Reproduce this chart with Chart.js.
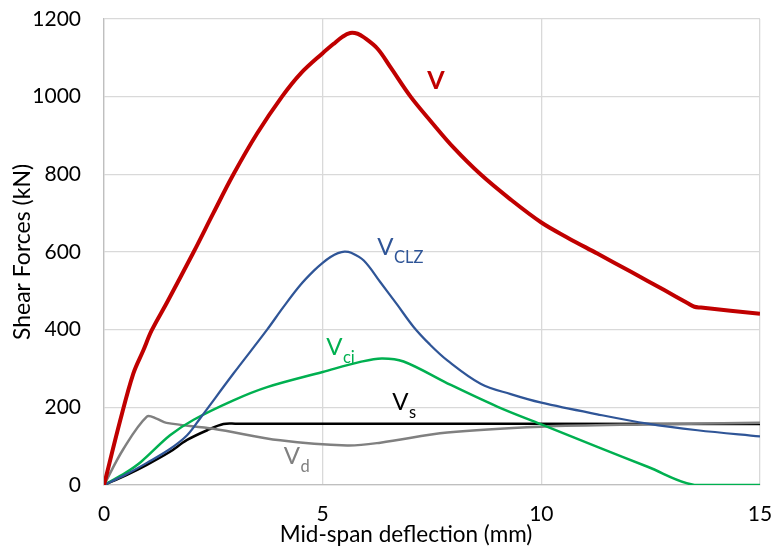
<!DOCTYPE html>
<html><head><meta charset="utf-8">
<script src="https://cdn.jsdelivr.net/npm/chart.js@4.4.0/dist/chart.umd.min.js"></script>
<style>html,body{margin:0;padding:0;background:#fff}#wrap{width:774px;height:554px;position:relative}</style>
</head><body><div id="wrap"><canvas id="c" width="774" height="554"></canvas></div>
<script>
// ---- data (mid-span deflection in mm, shear force in kN) ----
const vX    = [0, 0.37, 0.67, 0.9, 1.09, 1.44, 2.05, 2.5, 2.96, 3.5, 4.07, 4.5, 5.0, 5.25, 5.45, 5.63, 5.8, 5.94, 6.25, 6.55, 7.01, 7.5, 8.0, 8.61, 9.3, 10, 10.6, 11.28, 12.05, 12.81, 13.35, 13.5, 13.65, 15];
const vY    = [0, 166, 287, 347, 398, 470, 600, 700, 800, 905, 1000, 1060, 1112, 1136, 1154, 1164, 1162, 1153, 1124, 1076, 1000, 933, 868, 800, 735, 676, 637, 596, 549, 502, 468, 459, 457, 441];
const clzX  = [0, 0.5, 0.98, 1.5, 1.9, 2.2, 2.96, 3.73, 4.1, 4.49, 4.8, 5.0, 5.18, 5.35, 5.5, 5.65, 5.94, 6.32, 6.7, 7.08, 7.45, 7.85, 8.61, 9.3, 10, 11.28, 12.43, 13.57, 15];
const clzY  = [0, 27, 57, 92, 128, 172, 287, 400, 458, 515, 552, 572, 587, 597, 601, 598, 578, 522, 465, 407, 362, 321, 261, 234, 212, 182, 158, 141, 125];
const ciX   = [0, 0.5, 0.85, 1.51, 2.05, 2.96, 3.73, 5.0, 5.86, 6.35, 6.85, 7.85, 8.99, 10, 11.28, 12.43, 13.5, 15];
const ciY   = [0, 32, 60, 128, 168, 218, 252, 291, 317, 326, 318, 262, 202, 156, 98, 47, 0, 0];
const sX    = [0, 0.5, 0.98, 1.5, 1.9, 2.4, 2.73, 3.0, 15];
const sY    = [0, 25, 52, 85, 116, 143, 157, 158, 157];
const dX    = [0, 0.44, 0.98, 1.2, 1.43, 2.5, 4.03, 5.56, 6.32, 7.85, 10, 12.43, 15];
const dY    = [0, 92, 176, 171, 160, 145, 115, 102, 109, 135, 150, 156, 160];
const xTicks = [0, 5, 10, 15];
const yTicks = [0, 200, 400, 600, 800, 1000, 1200];

// series labels (anchor in data units)
const seriesLabels = [
  {main: 'V', sub: '',    x: 7.39, y: 1021, color: '#C00000', bold: true},
  {main: 'V', sub: 'CLZ', x: 6.25, y: 591,  color: '#2F5597'},
  {main: 'V', sub: 'ci',  x: 5.08, y: 334,  color: '#00B050'},
  {main: 'V', sub: 's',   x: 6.59, y: 192,  color: '#000000'},
  {main: 'V', sub: 'd',   x: 4.11, y: 55,   color: '#808080'}
];

const pts = (xs, ys) => xs.map((x, i) => ({x: x, y: ys[i]}));
const FONT = 'Lato';

const labelPlugin = {
  id: 'seriesLabels',
  afterDatasetsDraw(chart) {
    const ctx = chart.ctx, xs = chart.scales.x, ys = chart.scales.y;
    ctx.save();
    ctx.textAlign = 'left';
    ctx.textBaseline = 'alphabetic';
    seriesLabels.forEach(l => {
      const px = xs.getPixelForValue(l.x), py = ys.getPixelForValue(l.y);
      ctx.fillStyle = l.color;
      ctx.font = (l.bold ? 'bold 25px ' : '24px ') + FONT;
      ctx.fillText(l.main, px, py);
      if (l.sub) {
        const w = ctx.measureText(l.main).width;
        ctx.font = '16.5px ' + FONT;
        ctx.fillText(l.sub, px + w + 0.5, py + 8);
      }
    });
    // x-axis title
    const ca = chart.chartArea;
    ctx.fillStyle = '#000';
    ctx.font = '22.5px ' + FONT;
    ctx.textAlign = 'center';
    ctx.fillText('Mid-span deflection (mm)', ca.left + 302, 541.5);
    ctx.restore();
  }
};

const common = {showLine: true, pointRadius: 0, pointHoverRadius: 0, tension: 0.35, fill: false};

new Chart(document.getElementById('c'), {
  type: 'scatter',
  data: {
    datasets: [
      Object.assign({label: 'V',     data: pts(vX, vY),     borderColor: '#C00000', borderWidth: 4}, common),
      Object.assign({label: 'V_CLZ', data: pts(clzX, clzY), borderColor: '#2F5597', borderWidth: 2.25}, common),
      Object.assign({label: 'V_ci',  data: pts(ciX, ciY),   borderColor: '#00B050', borderWidth: 2.5}, common),
      Object.assign({label: 'V_d',   data: pts(dX, dY),     borderColor: '#808080', borderWidth: 2.5}, common),
      Object.assign({label: 'V_s',   data: pts(sX, sY),     borderColor: '#000000', borderWidth: 2.5}, common)
    ]
  },
  options: {
    responsive: false,
    animation: false,
    layout: {padding: {left: 0, right: 14, top: 19, bottom: 0}},
    plugins: {legend: {display: false}, tooltip: {enabled: false}},
    scales: {
      x: {
        type: 'linear', min: 0, max: 15,
        afterBuildTicks: s => { s.ticks = xTicks.map(v => ({value: v})); },
        afterFit: s => { s.height = 69; s.paddingLeft = 0; s.paddingRight = 0; },
        grid: {color: '#D9D9D9', lineWidth: 1.3, drawTicks: false},
        border: {color: '#BFBFBF', width: 1.3},
        ticks: {color: '#000', font: {family: FONT, size: 21}, padding: 17, maxRotation: 0, callback: v => String(v)}
      },
      y: {
        type: 'linear', min: 0, max: 1200,
        afterBuildTicks: s => { s.ticks = yTicks.map(v => ({value: v})); },
        afterFit: s => { s.width = 104; s.paddingTop = 0; s.paddingBottom = 0; },
        grid: {color: '#D9D9D9', lineWidth: 1.3, drawTicks: false},
        border: {color: '#BFBFBF', width: 1.3},
        ticks: {color: '#000', font: {family: FONT, size: 21}, padding: 23, callback: v => String(v)},
        title: {display: true, text: 'Shear Forces (kN)', color: '#000', font: {family: FONT, size: 23}, padding: {top: 9, bottom: 0}}
      }
    }
  },
  plugins: [labelPlugin]
});
</script>
</body></html>
